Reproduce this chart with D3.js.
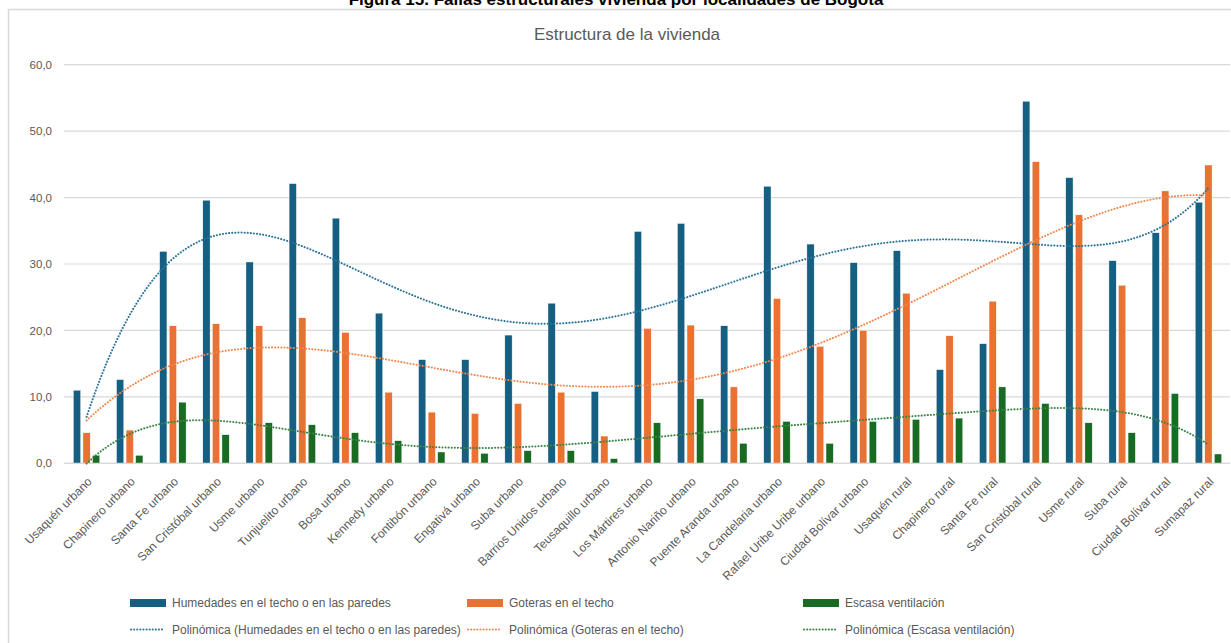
<!DOCTYPE html>
<html><head><meta charset="utf-8">
<script src="https://cdn.jsdelivr.net/npm/d3@7"></script>
<style>
html,body{margin:0;padding:0;background:#fff;}
svg{display:block;font-family:"Liberation Sans",Arial,sans-serif;}
</style></head>
<body><svg id="chart" width="1231" height="643"></svg>
<script>
const categories = ["Usaquén urbano","Chapinero urbano","Santa Fe urbano","San Cristóbal urbano","Usme urbano","Tunjuelito urbano","Bosa urbano","Kennedy urbano","Fontibón urbano","Engativá urbano","Suba urbano","Barrios Unidos urbano","Teusaquillo urbano","Los Mártires urbano","Antonio Nariño urbano","Puente Aranda urbano","La Candelaria urbano","Rafael Uribe Uribe urbano","Ciudad Bolívar urbano","Usaquén rural","Chapinero rural","Santa Fe rural","San Cristóbal rural","Usme rural","Suba rural","Ciudad Bolívar rural","Sumapaz rural"];
const humedades = [11.0,12.6,31.9,39.6,30.3,42.1,36.9,22.6,15.6,15.6,19.3,24.1,10.8,34.9,36.1,20.7,41.7,33.0,30.2,32.0,14.1,18.0,54.5,43.0,30.5,34.7,39.3];
const goteras = [4.6,5.0,20.7,21.0,20.7,21.9,19.7,10.7,7.7,7.5,9.0,10.7,4.1,20.3,20.8,11.5,24.8,17.6,20.0,25.6,19.2,24.4,45.4,37.4,26.8,41.0,44.9];
const ventilacion = [1.2,1.2,9.2,4.3,6.1,5.8,4.6,3.4,1.7,1.5,1.9,1.9,0.7,6.1,9.7,3.0,6.3,3.0,6.3,6.6,6.8,11.5,9.0,6.1,4.6,10.5,1.4];
const seriesNames = ["Humedades en el techo o en las paredes","Goteras en el techo","Escasa ventilación"];
const trendNames = ["Polinómica (Humedades en el techo o en las paredes)","Polinómica (Goteras en el techo)","Polinómica (Escasa ventilación)"];
const trendOrders = [5,4,6];
const yTicks = [0,10,20,30,40,50,60];
const colors = ["#156082","#E97132","#196B24"];
const trendColors = ["#2a7399","#f0874e","#3a8446"];

const svg = d3.select("#chart");
const gray = "#595959";

// outer title (clipped at top)
svg.append("text").attr("x",616).attr("y",5).attr("text-anchor","middle")
  .attr("font-weight","bold").attr("font-size",17).attr("fill","#000")
  .text("Figura 15. Fallas estructurales vivienda por localidades de Bogotá");
// chart frame
svg.append("rect").attr("x",8.5).attr("y",9.5).attr("width",1240).attr("height",700)
  .attr("fill","none").attr("stroke","#d9d9d9").attr("stroke-width",1.5);

svg.append("text").attr("x",627).attr("y",40).attr("text-anchor","middle")
  .attr("font-size",17).attr("fill",gray).text("Estructura de la vivienda");

const x = d3.scaleBand().domain(categories).range([65,1230]).paddingInner(0).paddingOuter(0);
const y = d3.scaleLinear().domain([0,60]).range([463.3,64.7]);
const half = x.step()*0.306;
const xs = d3.scaleBand().domain([0,1,2]).range([-half,half]).paddingInner(0.24);

// gridlines
svg.append("g").selectAll("line").data(yTicks).join("line")
  .attr("x1",64).attr("x2",1230).attr("y1",d=>y(d)).attr("y2",d=>y(d))
  .attr("stroke","#d9d9d9").attr("stroke-width",1.2);

// y axis labels
const yAxis = d3.axisLeft(y).tickValues(yTicks).tickSize(0).tickPadding(0)
  .tickFormat(d=>d3.format(".1f")(d).replace(".",","));
const gy = svg.append("g").attr("transform","translate(52,0)").call(yAxis);
gy.select(".domain").remove();
gy.selectAll("text").attr("font-size",11.5).attr("fill",gray).attr("font-family","Liberation Sans, Arial, sans-serif");

// bars
const data = [humedades,goteras,ventilacion];
data.forEach((vals,si)=>{
  svg.append("g").selectAll("rect").data(vals).join("rect")
    .attr("x",(d,i)=>x(categories[i])+x.step()/2+xs(si))
    .attr("width",xs.bandwidth())
    .attr("y",d=>y(d)).attr("height",d=>y(0)-y(d))
    .attr("fill",colors[si]).attr("stroke","#fff").attr("stroke-width",0.4);
});

// x axis line
svg.append("line").attr("x1",64).attr("x2",1230).attr("y1",y(0)).attr("y2",y(0))
  .attr("stroke","#d9d9d9").attr("stroke-width",1.2);

// x labels
svg.append("g").selectAll("text").data(categories).join("text")
  .attr("transform",d=>`translate(${x(d)+x.step()/2+6},${y(0)+19}) rotate(-45)`)
  .attr("text-anchor","end").attr("font-size",12).attr("fill",gray).text(d=>d);

// polynomial least-squares fit (Excel-style trendline)
function polyfit(xv,yv,order){
  const n=order+1;
  const A=Array.from({length:n},()=>new Array(n+1).fill(0));
  for(let k=0;k<xv.length;k++){
    const p=[];for(let j=0;j<2*n;j++)p.push(Math.pow(xv[k],j));
    for(let r=0;r<n;r++){for(let c=0;c<n;c++)A[r][c]+=p[r+c];A[r][n]+=p[r]*yv[k];}
  }
  for(let i=0;i<n;i++){
    let m=i;for(let r=i+1;r<n;r++)if(Math.abs(A[r][i])>Math.abs(A[m][i]))m=r;
    [A[i],A[m]]=[A[m],A[i]];
    for(let r=0;r<n;r++){if(r===i)continue;const f=A[r][i]/A[i][i];for(let c=i;c<=n;c++)A[r][c]-=f*A[i][c];}
  }
  return A.map((row,i)=>row[n]/row[i]);
}
const idx = categories.map((c,i)=>i+1);
const tScale = v=>(v-14)/13;
data.forEach((vals,si)=>{
  const coef = polyfit(idx.map(tScale),vals,trendOrders[si]);
  const pts=[];
  for(let v=1; v<=27.0001; v+=0.1){
    const t=tScale(v);let s=0;coef.forEach((c,j)=>s+=c*Math.pow(t,j));
    pts.push([x(categories[0])+x.step()/2+(v-1)*x.step(), y(s)]);
  }
  svg.append("path").attr("d",d3.line()(pts)).attr("fill","none")
    .attr("stroke",trendColors[si]).attr("stroke-width",2).attr("stroke-linecap","round")
    .attr("stroke-dasharray","0.1,3");
});

// legend
const legX=[130,467,803];
const lg = svg.append("g");
seriesNames.forEach((n,i)=>{
  lg.append("rect").attr("x",legX[i]).attr("y",599).attr("width",36).attr("height",8).attr("fill",colors[i]);
  lg.append("text").attr("x",legX[i]+42).attr("y",607).attr("font-size",12).attr("fill",gray).text(n);
});
trendNames.forEach((n,i)=>{
  lg.append("line").attr("x1",legX[i]+1).attr("x2",legX[i]+35).attr("y1",629.5).attr("y2",629.5)
    .attr("stroke",trendColors[i]).attr("stroke-width",2).attr("stroke-linecap","round").attr("stroke-dasharray","0.1,3");
  lg.append("text").attr("x",legX[i]+42).attr("y",633.5).attr("font-size",12).attr("fill",gray).text(n);
});
</script></body></html>
